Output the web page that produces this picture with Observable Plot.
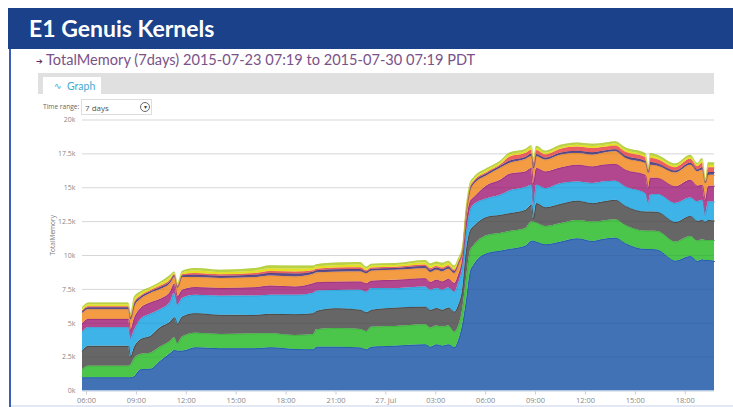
<!DOCTYPE html>
<html>
<head>
<meta charset="utf-8">
<script src="https://cdn.jsdelivr.net/npm/d3@7"></script>
<script src="https://cdn.jsdelivr.net/npm/@observablehq/plot@0.6"></script>
<style>
html,body{margin:0;padding:0;background:#fff;overflow:hidden;width:733px;height:407px}
#top{position:relative;height:116px;width:733px;font-family:Lato,"Open Sans",sans-serif}
#top div{position:absolute;box-sizing:border-box;white-space:nowrap}
#band{left:8px;top:8px;width:725px;height:41px;background:#1a4189;color:#fff;font-size:23px;font-weight:700;line-height:41px;padding-left:21px}
#sub{left:36px;top:50px;height:20px;line-height:20px;font-size:14.6px;color:#7a5289}
#bar{left:38px;top:73px;width:676px;height:21px;background:#e0e0e0}
#tab{left:43px;top:77px;width:58px;height:17px;background:#fff;color:#45a9cf;font-size:10.5px;line-height:18px;padding-left:24px}
#range{left:43px;top:101px;font-size:6.6px;line-height:11px;color:#666;font-family:"Open Sans",sans-serif}
#box{left:81px;top:99px;width:71px;height:16px;border:1px solid #ddd;background:#fff;font-size:8px;line-height:15px;color:#555;padding-left:3px;font-family:"Open Sans",sans-serif}
#circ{left:58px;top:2px;width:10px;height:10px;border:1px solid #666;border-radius:50%;font-size:6px;line-height:9px;text-align:center;color:#444}
#leftline{position:absolute;left:9px;top:49px;width:2px;height:358px;background:#3a5fb5}
#botline{position:absolute;left:11px;top:405px;width:722px;height:2px;background:#e2e8f5}
svg{display:block;overflow:visible}
</style>
</head>
<body>
<div id="top">
  <div id="band">E1 Genuis Kernels</div>
  <div id="sub"><span style="font-size:8px;vertical-align:1px;color:#5b2a66;font-family:'DejaVu Sans'">➔</span> TotalMemory (7days) 2015-07-23 07:19 to 2015-07-30 07:19 PDT</div>
  <div id="bar"></div>
  <div id="tab"><span style="position:absolute;left:11px;font-size:9px;font-family:'DejaVu Sans'">∿</span>Graph</div>
  <div id="range">Time range:</div>
  <div id="box">7 days<div id="circ">▾</div></div>
</div>
<div id="chart"></div>
<div id="leftline"></div>
<div id="botline"></div>
<script>
// Hours since 2015-07-26 00:00
const hours = [5.76,6.12,8.53,8.65,8.89,9.25,9.85,10.45,11.05,11.29,11.47,11.77,12.55,14.06,16.16,17.06,18.57,19.65,19.83,21.03,22.48,22.84,23.14,24.58,26.38,26.69,27.05,27.41,27.77,28.13,28.37,28.61,28.85,29.09,29.27,30.11,30.89,31.44,32.40,32.76,32.88,33.06,33.60,34.50,35.52,36.43,37.03,37.81,38.41,39.61,39.79,39.91,40.34,41.42,42.32,42.74,43.03,43.21,43.40,43.76];
const blue = [975,975,975,975,1070,1565,1610,2200,2770,2990,2940,2940,3190,3115,3115,3190,3060,3040,3230,3230,3175,3040,3230,3305,3410,3230,3410,3305,3410,3190,3725,4835,6680,8820,9260,10150,10320,10445,10690,11055,11055,10980,10790,10980,11230,11035,11180,11280,10865,10445,10445,10445,10390,9580,9925,9560,9680,9630,9630,9560];
const green = [590,860,860,910,1330,1130,1180,1040,910,940,550,1040,1080,1060,1110,1040,1040,1130,1290,1380,1370,1350,1480,1460,1480,1410,1380,1410,1380,1150,1060,1110,1630,1550,1430,1330,1310,1330,1290,1410,1410,1410,1350,1360,1350,1430,1350,1360,1350,1350,1350,1350,1380,1410,1480,1500,1480,1480,1480,1550];
const gray = [1380,1460,1460,610,840,1090,1240,1440,1410,1480,1430,1480,1440,1410,1350,1430,1530,1530,1350,1460,1410,1380,1240,1350,1300,1310,1290,1240,1330,1480,1530,1480,2070,1480,1410,1350,1330,1310,1350,1240,250,1440,1380,1430,1430,1360,1410,1430,1410,1410,1410,1410,1410,1440,1480,1460,1430,1350,1480,1430];
const sky = [1410,1380,1380,1360,1240,1480,1630,1330,1480,1780,1410,1360,1350,1410,1430,1410,1430,1520,1500,1350,1480,1520,1610,1440,1480,1480,1480,1480,1480,1480,1610,1630,1330,1480,1610,1360,1480,1670,1680,1480,980,1350,1410,1530,1410,1480,1480,1410,1430,1360,640,1240,1330,1410,1350,1430,1480,500,1350,1410];
const magenta = [620,610,610,610,890,810,840,760,740,690,610,610,570,570,620,670,610,700,620,610,610,620,540,610,620,570,610,610,640,620,610,590,740,670,520,980,1110,1240,1150,1240,1610,1240,1230,1150,1240,1230,1240,1240,1240,1350,1110,1260,1180,1230,1310,1160,1110,1110,1160,1160];
const orange = [740,720,720,740,840,670,700,720,620,540,620,940,740,740,740,740,740,690,710,740,740,740,740,740,740,740,740,740,740,740,740,590,740,810,960,740,890,790,920,860,980,860,870,940,870,870,870,930,870,870,1110,960,890,1010,1110,1060,1110,1260,810,810];
const navy = [120,130,130,140,200,150,120,150,160,100,100,130,180,160,180,200,220,160,170,180,190,130,140,130,160,170,160,170,160,150,130,100,140,160,140,140,140,170,160,180,190,170,150,160,170,180,160,160,170,160,80,190,180,150,160,140,190,50,210,200];
const red = [80,90,90,90,130,100,80,100,110,70,70,80,120,110,120,140,150,110,110,120,130,90,90,90,110,120,110,120,110,100,90,70,90,110,90,90,90,300,280,310,330,300,250,280,300,310,280,280,300,280,140,330,310,250,280,240,330,80,360,350];
const yellow = [120,130,130,140,200,150,120,150,160,100,100,130,180,160,180,200,220,160,170,180,190,130,140,130,160,170,160,170,160,150,130,100,140,160,140,140,140,140,130,150,160,140,120,130,140,150,130,130,140,130,70,160,150,120,130,110,160,40,170,160];
const lime = [120,140,140,150,210,160,120,140,180,100,100,130,190,180,190,220,220,180,170,190,190,140,150,150,180,180,180,180,160,160,150,100,150,160,150,150,150,170,170,170,190,180,150,170,170,170,170,170,170,170,80,190,170,150,170,130,190,50,200,200];

const seriesValues = {blue, green, gray, sky, magenta, orange, navy, red, yellow, lime};
const fills = {blue:"#4172b6",green:"#4bc64b",gray:"#666666",sky:"#3db3e8",magenta:"#b2468f",orange:"#f39c44",navy:"#5d4f8c",red:"#ec6060",yellow:"#e6e024",lime:"#b9d246"};
const strokes = {blue:"#1f5ca8",green:"#3cae3c",gray:"#444444",sky:"#2f9fd4",magenta:"#9a2f7c",orange:"#e88c35",navy:"#4a3d78",red:"#e65858",yellow:"#e0dc22",lime:"#b4cc40"};
const lineWidths = {blue:0.9,green:0.7,gray:0.8,sky:0.7,magenta:0.8,orange:0.6,navy:0.6,red:0.4,yellow:0.4,lime:0.5};

const yTicks = [0,2500,5000,7500,10000,12500,15000,17500,20000];
const yLabels = ["0k","2.5k","5k","7.5k","10k","12.5k","15k","17.5k","20k"];
const xTickHours = [6,9,12,15,18,21,24,27,30,33,36,39,42];
const xLabels = ["06:00","09:00","12:00","15:00","18:00","21:00","27. Jul","03:00","06:00","09:00","12:00","15:00","18:00"];

const t0 = Date.UTC(2015,6,26);
const toDate = h => new Date(t0 + h*3600e3);
const rows = Object.keys(seriesValues).flatMap(s =>
  seriesValues[s].map((v,i) => ({series:s, date:toDate(hours[i]), value:v})));

const chart = Plot.plot({
  width:733, height:291,
  marginLeft:82, marginRight:19, marginTop:3.5, marginBottom:16.5,
  style:{fontFamily:"'Open Sans',sans-serif", background:"transparent", overflow:"visible"},
  x:{type:"utc", domain:[toDate(5.76),toDate(43.76)]},
  y:{domain:[0,20000]},
  color:{type:"identity"},
  marks:[
    Plot.ruleY(yTicks.slice(1),{stroke:"#e4e4e4",strokeWidth:1}),
    Plot.areaY(rows,{x:"date",y:"value",z:"series",fill:d=>fills[d.series],curve:"monotone-x"}),
    Plot.lineY(rows,Plot.stackY2({x:"date",y:"value",z:"series",stroke:d=>strokes[d.series],strokeWidth:d=>lineWidths[d.series],curve:"monotone-x"})),
    Plot.ruleY(yTicks.slice(1),{stroke:"#000",strokeOpacity:0.06,strokeWidth:1}),
    Plot.ruleY([0],{stroke:"#c4d2e2",strokeWidth:1}),
    Plot.axisY({ticks:yTicks,tickSize:0,tickPadding:7,fontSize:7,color:"#888",tickFormat:(d,i)=>yLabels[yTicks.indexOf(d)],label:null}),
    Plot.axisX({ticks:xTickHours.map(toDate),tickSize:4,tickPadding:2.5,fontSize:7.5,color:"#888",stroke:"#ccd",tickFormat:d=>xLabels[xTickHours.indexOf((d-t0)/3600e3)],label:null}),
    Plot.text(["TotalMemory"],{frameAnchor:"left",dx:-30,rotate:-90,fontSize:6.5,fill:"#777"})
  ]
});
document.getElementById("chart").appendChild(chart);
</script>
</body>
</html>
